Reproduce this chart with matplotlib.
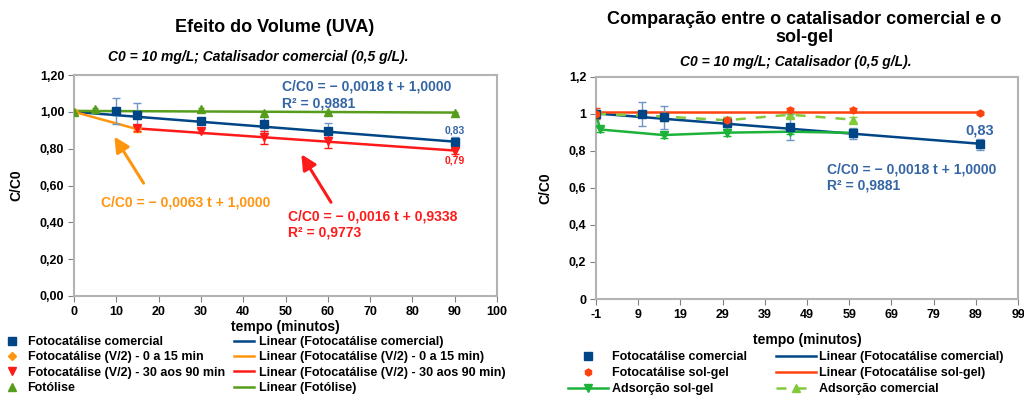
import matplotlib
matplotlib.use("Agg")
import matplotlib.pyplot as plt
import numpy as np
from matplotlib.ticker import FuncFormatter

plt.rcParams["font.family"] = ["Liberation Sans", "DejaVu Sans"]
plt.rcParams["font.weight"] = "bold"
plt.rcParams["axes.unicode_minus"] = False

# --- left chart data: Efeito do Volume (UVA) ---
t_com = [10, 15, 30, 45, 60, 90]
c_com = [1.005, 0.982, 0.951, 0.935, 0.897, 0.835]
e_com = [0.07, 0.065, 0.012, 0.04, 0.04, 0.03]

t_v2a = [0, 15]
c_v2a = [1.00, 0.91]
e_v2a = [0.01, 0.02]

t_v2b = [15, 30, 45, 60, 90]
c_v2b = [0.91, 0.895, 0.862, 0.84, 0.79]
e_v2b = [0.015, 0.012, 0.035, 0.035, 0.02]

t_fot = [0, 5, 30, 45, 60, 90]
c_fot = [1.00, 1.015, 1.015, 0.995, 1.00, 0.995]
e_fot = [0.005, 0.005, 0.008, 0.005, 0.005, 0.005]

fit_com = (-0.0018, 1.0000)
fit_v2a = (-0.0063, 1.0000)
fit_v2b = (-0.0016, 0.9338)
fit_fot = (-0.0001, 1.005)

# --- right chart data: comercial vs sol-gel ---
t_rcom = [-1, 10, 15, 30, 45, 60, 90]
c_rcom = [1.00, 1.00, 0.98, 0.95, 0.93, 0.895, 0.835]
e_rcom = [0.01, 0.065, 0.06, 0.03, 0.07, 0.03, 0.03]

t_sg = [-1, 30, 45, 60, 90]
c_sg = [1.00, 0.965, 1.02, 1.02, 1.005]
e_sg = [0.03, 0.01, 0.01, 0.01, 0.005]
fit_sg = (0.0, 1.007)

t_ads_sg = [-1, 0, 15, 30, 45, 60]
c_ads_sg = [1.00, 0.915, 0.885, 0.898, 0.903, 0.897]
e_ads_sg = [0.01, 0.015, 0.015, 0.02, 0.01, 0.01]

t_ads_com = [-1, 15, 30, 45, 60]
c_ads_com = [1.00, 0.985, 0.965, 0.995, 0.968]
e_ads_com = [0.01, 0.02, 0.02, 0.01, 0.015]

BLUE = "#004586"
BLUE_TXT = "#3465a4"
BLUE_ERR = "#6f95c8"
ORANGE = "#ff950e"
RED = "#ff1a1a"
GREEN = "#579d1c"
ORANGE_R = "#ff420e"
GREEN_R = "#1db33a"
LIGHT_GREEN = "#83ca3a"
FS = 9


def comma(fmt):
    return FuncFormatter(lambda v, _: fmt.format(v).replace(".", ","))


def trend(ax, fit, t0, t1, color, label):
    tt = np.array([t0, t1])
    ax.plot(tt, fit[0] * tt + fit[1], color=color, lw=1.8, label=label, zorder=2)


def style_axes(ax):
    for s in ax.spines.values():
        s.set_color("#b3b3b3")
        s.set_linewidth(1.5)
    ax.tick_params(labelsize=FS, length=4, color="#808080", pad=3)
    for lab in ax.get_xticklabels() + ax.get_yticklabels():
        lab.set_fontweight("bold")


fig = plt.figure(figsize=(10.24, 3.97), dpi=100)
W, H = 1024, 397
axl = fig.add_axes([74 / W, 1 - 296 / H, (497 - 74) / W, (296 - 75) / H])
axr = fig.add_axes([596 / W, 1 - 299 / H, (1018 - 596) / W, (299 - 76.7) / H])

# ---------- left ----------
ax = axl
ax.errorbar(t_com, c_com, yerr=e_com, fmt="none", ecolor=BLUE_ERR, capsize=3, lw=1, zorder=3)
ax.errorbar(t_v2a, c_v2a, yerr=e_v2a, fmt="none", ecolor=ORANGE, capsize=3, lw=1, zorder=3)
ax.errorbar(t_v2b, c_v2b, yerr=e_v2b, fmt="none", ecolor=RED, capsize=3, lw=1, zorder=3)
ax.errorbar(t_fot, c_fot, yerr=e_fot, fmt="none", ecolor=GREEN, capsize=2, lw=1, zorder=3)
ax.plot(t_com, c_com, "s", color=BLUE, ms=6, ls="none", label="Fotocatálise comercial", zorder=4)
ax.plot(t_v2a, c_v2a, "D", color=ORANGE, ms=4.5, ls="none", label="Fotocatálise (V/2) - 0 a 15 min", zorder=4)
ax.plot(t_v2b, c_v2b, "v", color=RED, ms=6, ls="none", label="Fotocatálise (V/2) - 30 aos 90 min", zorder=4)
ax.plot(t_fot, c_fot, "^", color=GREEN, ms=6, ls="none", label="Fotólise", zorder=4)
trend(ax, fit_com, 0, 90, BLUE, "Linear (Fotocatálise comercial)")
trend(ax, fit_v2a, 0, 15, ORANGE, "Linear (Fotocatálise (V/2) - 0 a 15 min)")
trend(ax, fit_v2b, 15, 90, RED, "Linear (Fotocatálise (V/2) - 30 aos 90 min)")
trend(ax, fit_fot, 0, 90, GREEN, "Linear (Fotólise)")

ax.set_xlim(0, 100)
ax.set_ylim(0, 1.2)
ax.set_xticks(np.arange(0, 101, 10))
ax.set_yticks(np.arange(0, 1.21, 0.2))
ax.yaxis.set_major_formatter(comma("{:.2f}"))
ax.set_xlabel("tempo (minutos)", fontsize=10, fontweight="bold", labelpad=2)
ax.set_ylabel("C/C0", fontsize=10, fontweight="bold", labelpad=12)
style_axes(ax)

ax.text(49.1, 1.136, "C/C0 = \u2212 0,0018 t + 1,0000", color=BLUE_TXT, fontsize=10, fontweight="bold", va="center")
ax.text(49.1, 1.047, "R\u00b2 = 0,9881", color=BLUE_TXT, fontsize=10, fontweight="bold", va="center")
ax.text(90, 0.90, "0,83", color=BLUE_TXT, fontsize=7.5, fontweight="bold", ha="center", va="center")
ax.text(90, 0.737, "0,79", color=RED, fontsize=7.5, fontweight="bold", ha="center", va="center")
ax.text(6.4, 0.509, "C/C0 = \u2212 0,0063 t + 1,0000", color=ORANGE, fontsize=10, fontweight="bold", va="center")
ax.text(50.5, 0.433, "C/C0 = \u2212 0,0016 t + 0,9338", color=RED, fontsize=10, fontweight="bold", va="center")
ax.text(50.5, 0.345, "R\u00b2 = 0,9773", color=RED, fontsize=10, fontweight="bold", va="center")
ax.annotate("", xy=(9.2, 0.878), xytext=(16.8, 0.60),
            arrowprops=dict(arrowstyle="-|>,head_length=0.9,head_width=0.45", color=ORANGE, lw=2.2))
ax.annotate("", xy=(53.4, 0.782), xytext=(61.1, 0.496),
            arrowprops=dict(arrowstyle="-|>,head_length=0.9,head_width=0.45", color=RED, lw=2.2))

h, l = ax.get_legend_handles_labels()
fig.legend(h, l, loc="upper left", bbox_to_anchor=(2 / W, 1 - 336 / H), ncol=2, frameon=False,
           prop={"weight": "bold", "size": FS}, borderpad=0, borderaxespad=0,
           handlelength=1.6, handletextpad=0.45, columnspacing=0.7, labelspacing=0.27)

fig.text(275 / W, 1 - 27 / H, "Efeito do Volume (UVA)", fontsize=13, fontweight="bold", ha="center", va="center")
fig.text(258 / W, 1 - 57 / H, "C0 = 10 mg/L; Catalisador comercial (0,5 g/L).", fontsize=10,
         fontweight="bold", style="italic", ha="center", va="center")

# ---------- right ----------
ax = axr
ax.errorbar(t_rcom, c_rcom, yerr=e_rcom, fmt="none", ecolor=BLUE_ERR, capsize=3, lw=1, zorder=3)
ax.errorbar(t_sg, c_sg, yerr=e_sg, fmt="none", ecolor=ORANGE_R, capsize=3, lw=1, zorder=3)
ax.errorbar(t_ads_sg, c_ads_sg, yerr=e_ads_sg, fmt="none", ecolor=GREEN_R, capsize=3, lw=1, zorder=3)
ax.errorbar(t_ads_com, c_ads_com, yerr=e_ads_com, fmt="none", ecolor=LIGHT_GREEN, capsize=3, lw=1, zorder=3)
ax.plot(t_rcom, c_rcom, "s", color=BLUE, ms=6, ls="none", label="Fotocatálise comercial", zorder=5)
ax.plot(t_sg, c_sg, "h", color=ORANGE_R, ms=5, ls="none", label="Fotocatálise sol-gel", zorder=5)
ax.plot(t_ads_sg, c_ads_sg, "v-", color=GREEN_R, ms=6, lw=1.8, label="Adsorção sol-gel", zorder=4)
trend(ax, fit_com, -1, 90, BLUE, "Linear (Fotocatálise comercial)")
trend(ax, fit_sg, -1, 90, ORANGE_R, "Linear (Fotocatálise sol-gel)")
ax.plot(t_ads_com, c_ads_com, "^--", color=LIGHT_GREEN, ms=6, lw=1.8, dashes=(4, 4),
        label="Adsorção comercial", zorder=4)

ax.set_xlim(-1, 99)
ax.set_ylim(0, 1.2)
ax.set_xticks(np.arange(-1, 100, 10))
ax.set_yticks(np.arange(0, 1.21, 0.2))
ax.yaxis.set_major_formatter(FuncFormatter(lambda v, _: f"{v:.1f}".rstrip("0").rstrip(".").replace(".", ",")))
ax.set_xlabel("tempo (minutos)", fontsize=10, fontweight="bold", labelpad=9)
ax.set_ylabel("C/C0", fontsize=10, fontweight="bold", labelpad=12)
style_axes(ax)

ax.text(90, 0.908, "0,83", color=BLUE_TXT, fontsize=10.5, fontweight="bold", ha="center", va="center")
ax.text(53.8, 0.70, "C/C0 = \u2212 0,0018 t + 1,0000", color=BLUE_TXT, fontsize=10, fontweight="bold", va="center")
ax.text(53.8, 0.615, "R\u00b2 = 0,9881", color=BLUE_TXT, fontsize=10, fontweight="bold", va="center")

h, l = ax.get_legend_handles_labels()
fig.legend(h, l, loc="upper left", bbox_to_anchor=(568 / W, 1 - 351 / H),
           ncol=2, frameon=False, prop={"weight": "bold", "size": FS}, borderpad=0, borderaxespad=0,
           handlelength=3.2, handletextpad=0.3, columnspacing=2.3, labelspacing=0.32)

fig.text(804 / W, 1 - 28.5 / H, "Comparação entre o catalisador comercial e o\nsol-gel", fontsize=13,
         fontweight="bold", ha="center", va="center", linespacing=1.1)
fig.text(796 / W, 1 - 62 / H, "C0 = 10 mg/L; Catalisador (0,5 g/L).", fontsize=10,
         fontweight="bold", style="italic", ha="center", va="center")

fig.savefig("out.png", dpi=100)
